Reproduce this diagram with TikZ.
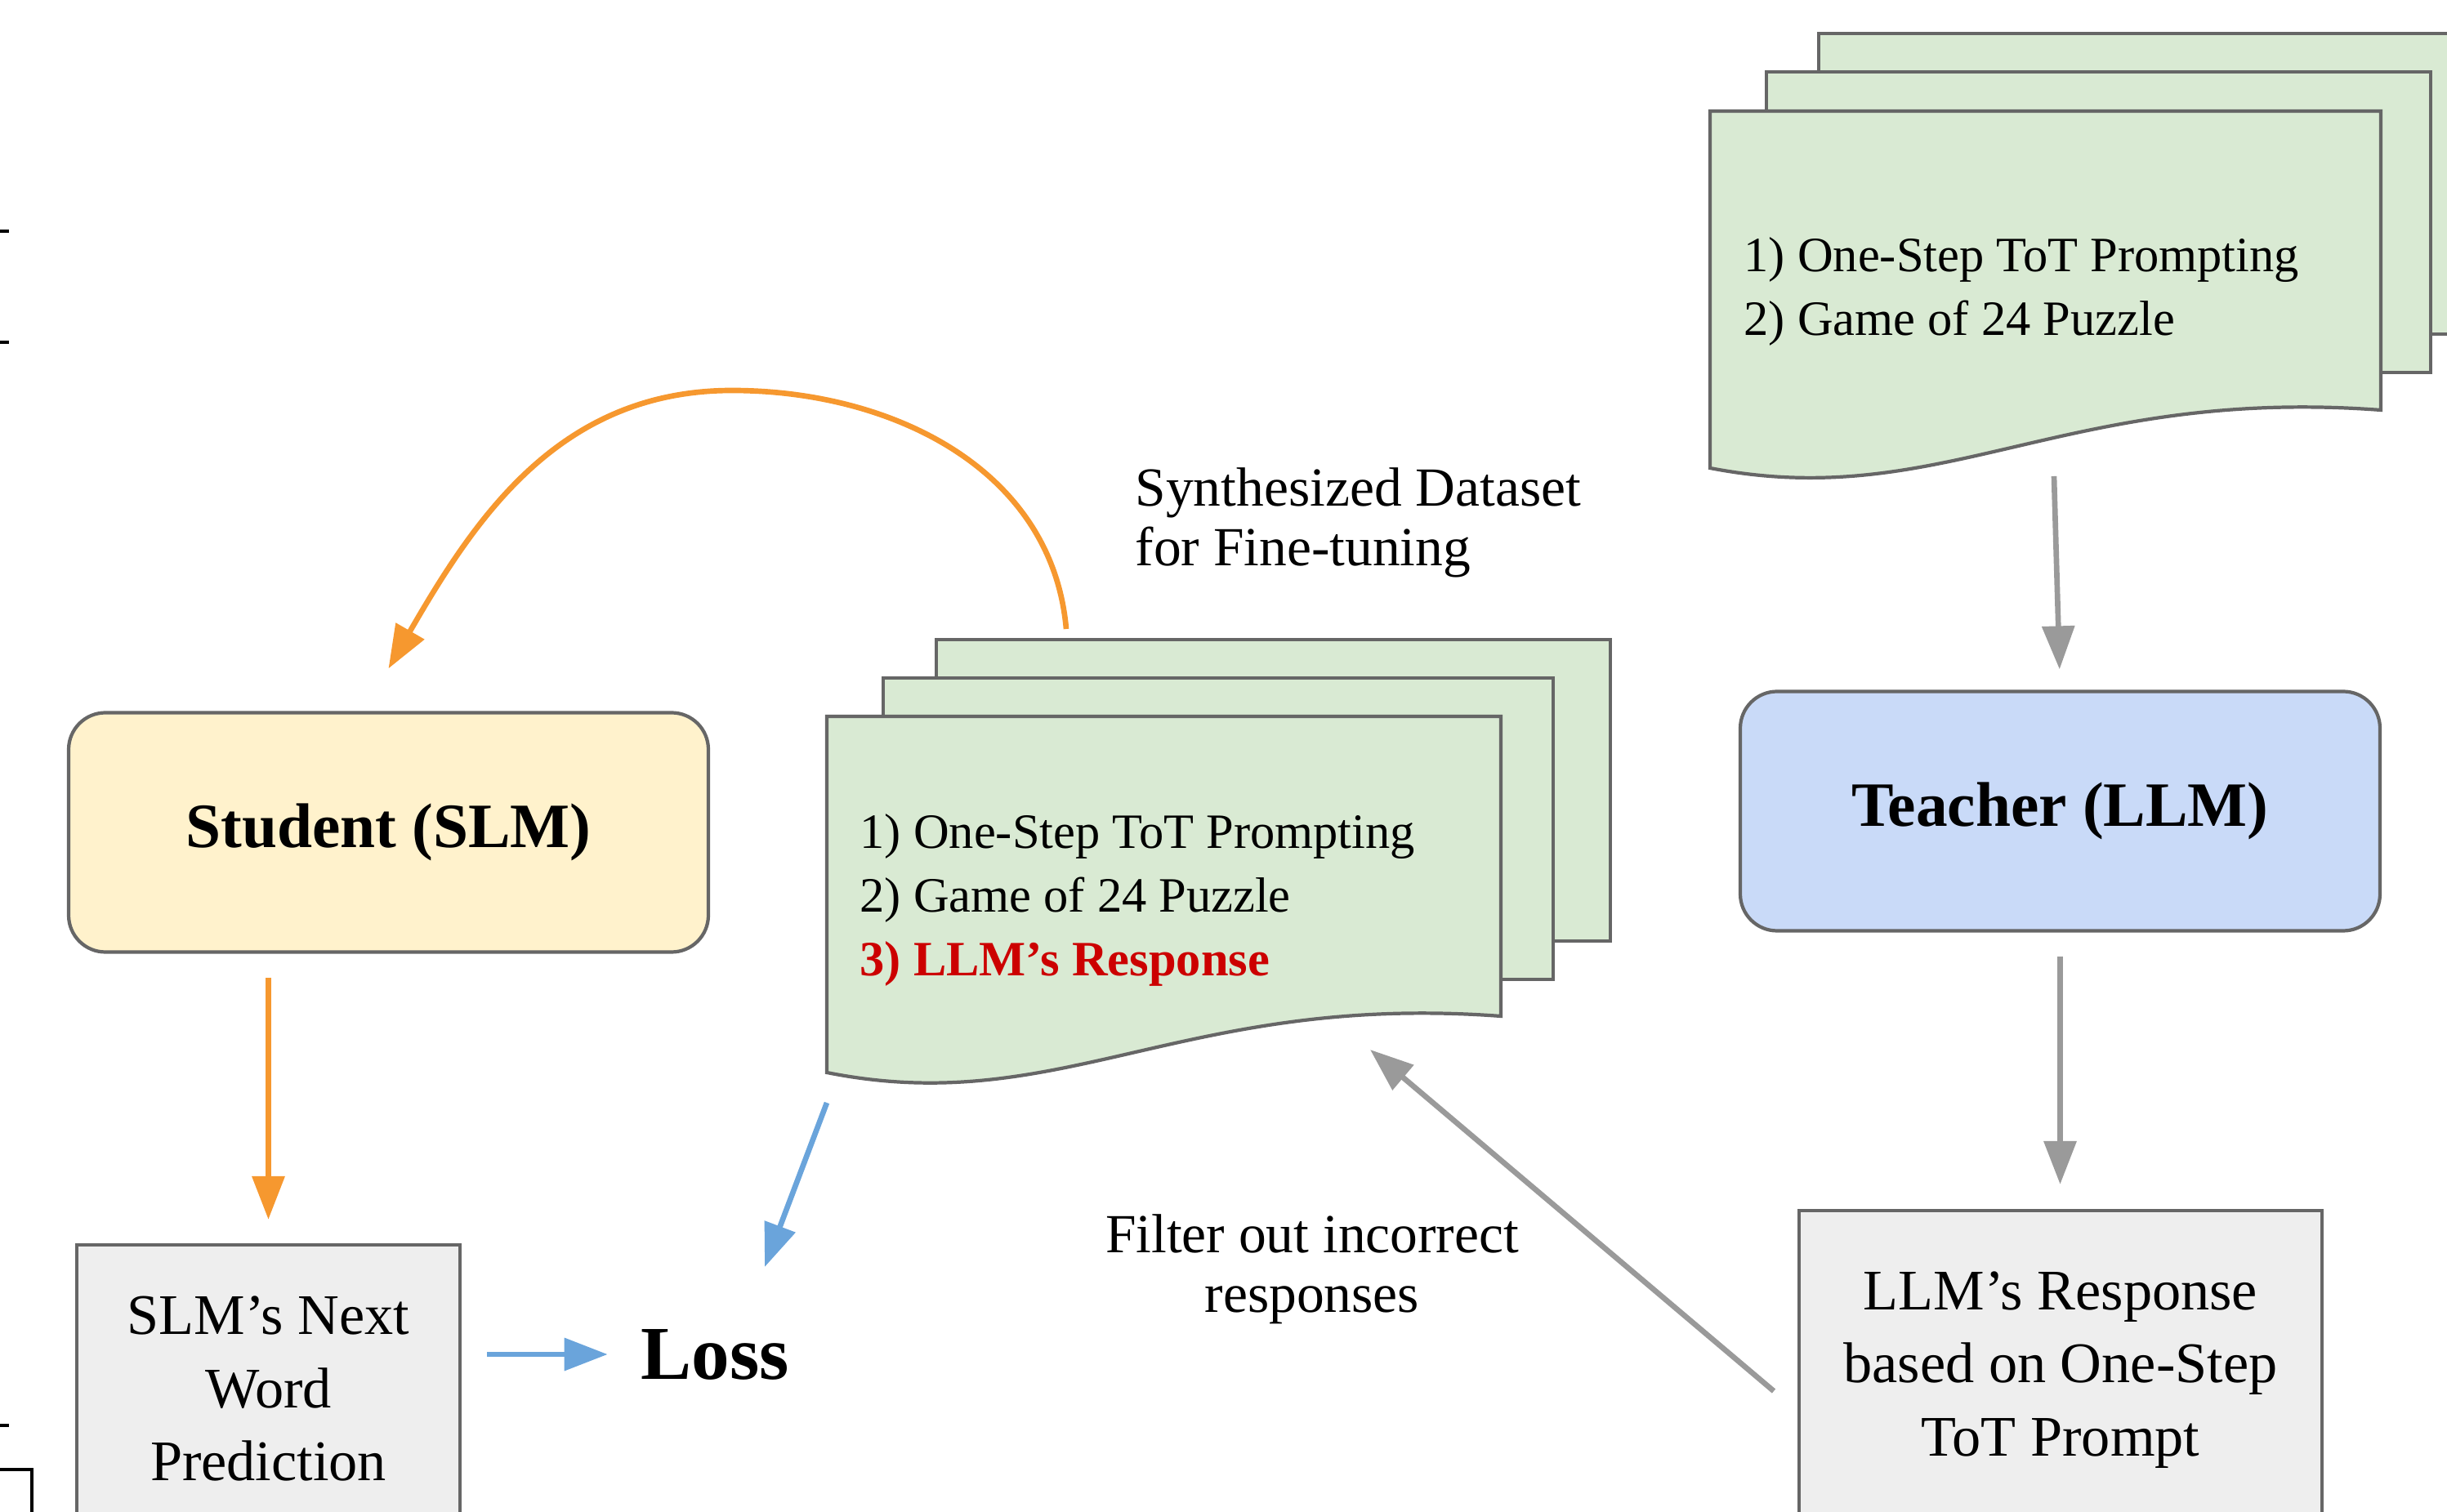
\documentclass[tikz,border=0pt]{standalone}
\usepackage{fontspec}
\setmainfont{Liberation Serif}
\usetikzlibrary{positioning,calc,arrows.meta}

\definecolor{linegray}{HTML}{666666}
\definecolor{sheetgreen}{HTML}{D9EAD3}
\definecolor{stucream}{HTML}{FFF2CC}
\definecolor{teablue}{HTML}{C9DAF8}
\definecolor{boxgray}{HTML}{EEEEEE}
\definecolor{arrorange}{HTML}{F6982F}
\definecolor{arrblue}{HTML}{6AA4DB}
\definecolor{arrgray}{HTML}{9A9A9A}
\definecolor{resred}{HTML}{CC0000}

\begin{document}
\begin{tikzpicture}[
	sheet/.style={draw=linegray, line width=1.2pt, fill=sheetgreen},
	modelbox/.style={draw=linegray, line width=1.2pt, rounded corners=0.45cm, minimum width=7.83cm, minimum height=2.93cm, font=\fontsize{22}{26}\selectfont\bfseries},
	outbox/.style={draw=linegray, line width=1.2pt, fill=boxgray, align=center, font=\fontsize{20}{25.5}\selectfont},
	doctext/.style={anchor=west, align=left, inner sep=0pt, font=\fontsize{17.2}{22.2}\selectfont},
	lbl/.style={inner sep=0pt, font=\fontsize{19.2}{20.8}\selectfont},
	orng/.style={->, draw=arrorange, line width=1.9pt},
	blu/.style={->, draw=arrblue, line width=1.9pt},
	gry/.style={->, draw=arrgray, line width=1.9pt},
	>={Triangle[length=0.53cm, width=0.39cm]}
]
	\useasboundingbox (0,0) rectangle (29.95,-18.51);
	\clip (0,0) rectangle (29.95,-18.51);

	\draw[line width=0.9pt] (0,-2.83) -- (0.11,-2.83);
	\draw[line width=0.9pt] (0,-4.19) -- (0.11,-4.19);
	\draw[line width=0.9pt] (0,-17.45) -- (0.11,-17.45);
	\draw[line width=0.9pt] (0,-17.99) -- (0.39,-17.99) -- (0.39,-18.6);

	\begin{scope}[xshift=20.93cm, yshift=-1.36cm]
		\draw[sheet] (1.33,0.95) rectangle ++(8.21,-3.68);
		\draw[sheet] (0.69,0.48) rectangle ++(8.13,-3.68);
		\draw[sheet] (0,0) -- (8.21,0) -- (8.21,-3.66) .. controls (4.33,-3.37) and (2.85,-4.92) .. (0,-4.37) -- cycle;
		\node[doctext] (prompt) at (0.41,-2.21) {1) One-Step ToT Prompting\\2) Game of 24 Puzzle};
	\end{scope}

	\begin{scope}[xshift=10.12cm, yshift=-8.77cm]
		\draw[sheet] (1.34,0.94) rectangle ++(8.25,-3.69);
		\draw[sheet] (0.69,0.47) rectangle ++(8.20,-3.69);
		\draw[sheet] (0,0) -- (8.25,0) -- (8.25,-3.67) .. controls (4.35,-3.38) and (2.86,-4.93) .. (0,-4.36) -- cycle;
		\node[doctext] (dset) at (0.40,-2.25) {1) One-Step ToT Prompting\\2) Game of 24 Puzzle\\\textcolor{resred}{\bfseries 3) LLM's Response}};
	\end{scope}

	\node[modelbox, fill=stucream] (stu) at (4.755,-10.19) {Student (SLM)};
	\node[modelbox, fill=teablue] (tea) at (25.215,-9.93) {Teacher (LLM)};
	\node[outbox, minimum width=4.69cm, minimum height=3.52cm] (pred) at (3.285,-17.00) {SLM's Next\\Word\\Prediction};
	\node[outbox, minimum width=6.40cm, minimum height=3.90cm] (resp) at (25.22,-16.77) {LLM's Response\\based on One-Step\\ToT Prompt};
	\node[inner sep=0pt, font=\fontsize{26.5}{30}\selectfont\bfseries] (loss) at (8.75,-16.58) {Loss};

	\node[lbl, anchor=west, align=left] (dsetlbl) at (13.89,-6.40) {Synthesized Dataset\\for Fine-tuning};
	\node[lbl, align=center] (filt) at (16.06,-15.54) {Filter out incorrect\\responses};

	\coordinate (loopstart) at (13.05,-7.70);
	\coordinate (looptop) at (8.96,-4.78);
	\coordinate[above=0.52cm of stu.north] (stutop);
	\coordinate (dsetbot) at (10.12,-13.50);
	\coordinate (losstop) at (9.36,-15.51);
	\coordinate (promptbot) at (25.14,-5.83);
	\coordinate (respside) at (21.71,-17.03);
	\coordinate (dsetcurve) at (16.77,-12.85);

	\draw[orng] (loopstart) to[out=95, in=0] (looptop) to[out=180, in=60] (stutop);
	\draw[orng, shorten <=0.29cm, shorten >=0.29cm] (stu.south -| pred.north) -- (pred.north);
	\draw[blu, shorten <=0.31cm, shorten >=0.4cm] (pred.east |- loss.west) -- (loss.west);
	\draw[blu] (dsetbot) -- (losstop);
	\draw[gry, shorten >=0.25cm] (promptbot) -- (tea.north);
	\draw[gry, shorten <=0.29cm, shorten >=0.30cm] (tea.south) -- (tea.south |- resp.north);
	\draw[gry] (respside) -- (dsetcurve);
\end{tikzpicture}
\end{document}
